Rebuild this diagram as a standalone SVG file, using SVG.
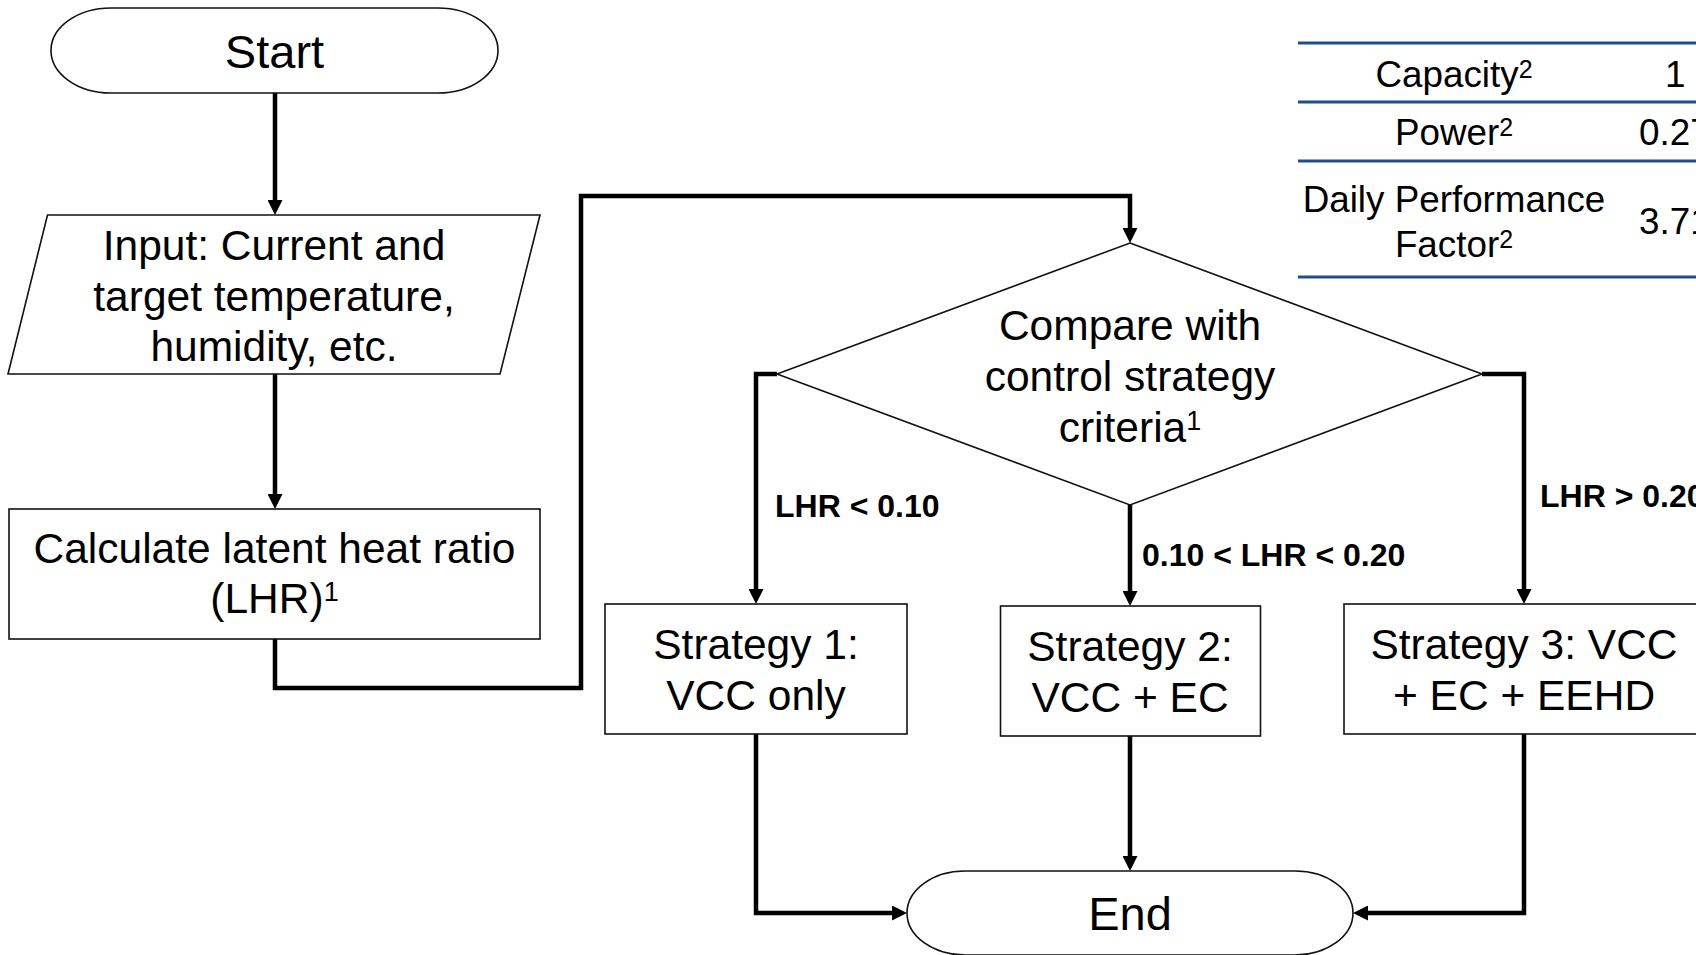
<svg xmlns="http://www.w3.org/2000/svg" width="1696" height="955" viewBox="0 0 1696 955">
<style>
  .shape { fill: #ffffff; stroke: #111111; stroke-width: 1.6; }
  .conn { fill: none; stroke: #000000; stroke-width: 4.5; stroke-linejoin: miter; stroke-linecap: butt; }
  .txt { font-family: "Liberation Sans", Arial, sans-serif; font-size: 42.5px; fill: #000000; text-anchor: middle; }
  .term { font-size: 47px; }
  .lbl { font-family: "Liberation Sans", Arial, sans-serif; font-size: 32px; font-weight: bold; fill: #000000; }
  .tab { font-family: "Liberation Sans", Arial, sans-serif; font-size: 36.8px; fill: #000000; }
  .tline { stroke: #1F4E8A; stroke-width: 2.8; }
  .sup { font-size: 27px; }
  .tsup { font-size: 25px; }
</style>
<defs>
  <marker id="arrow" viewBox="0 0 15 15" markerWidth="15" markerHeight="15" markerUnits="userSpaceOnUse" refX="1" refY="7.5" orient="auto">
    <path d="M0,0 L15,7.5 L0,15 Z" fill="#000000"/>
  </marker>
</defs>

<g id="table">
  <line class="tline" x1="1298" y1="43" x2="1700" y2="43"/>
  <line class="tline" x1="1298" y1="102" x2="1700" y2="102"/>
  <line class="tline" x1="1298" y1="161" x2="1700" y2="161"/>
  <line class="tline" x1="1298" y1="277" x2="1700" y2="277"/>
  <text class="tab" x="1454" y="87" text-anchor="middle">Capacity<tspan class="tsup" dy="-9">2</tspan></text>
  <text class="tab" x="1454" y="145" text-anchor="middle">Power<tspan class="tsup" dy="-9">2</tspan></text>
  <text class="tab" x="1454" y="212" text-anchor="middle">Daily Performance</text>
  <text class="tab" x="1454" y="257" text-anchor="middle">Factor<tspan class="tsup" dy="-9">2</tspan></text>
  <text class="tab" x="1665" y="87">1</text>
  <text class="tab" x="1639" y="145">0.27</text>
  <text class="tab" x="1639" y="234">3.71</text>
</g>

<g id="connectors">
  <path class="conn" d="M275,93 V201" marker-end="url(#arrow)"/>
  <path class="conn" d="M275,374 V495" marker-end="url(#arrow)"/>
  <path class="conn" d="M275,639 V688 H581 V196 H1130 V229" marker-end="url(#arrow)"/>
  <path class="conn" d="M777,374 H756 V590" marker-end="url(#arrow)"/>
  <path class="conn" d="M1130,505 V592" marker-end="url(#arrow)"/>
  <path class="conn" d="M1482,374 H1524 V590" marker-end="url(#arrow)"/>
  <path class="conn" d="M756,734 V913 H893" marker-end="url(#arrow)"/>
  <path class="conn" d="M1130,736 V857" marker-end="url(#arrow)"/>
  <path class="conn" d="M1524,734 V913 H1367" marker-end="url(#arrow)"/>
  <text class="lbl" x="775" y="517">LHR &lt; 0.10</text>
  <text class="lbl" x="1142" y="566">0.10 &lt; LHR &lt; 0.20</text>
  <text class="lbl" x="1540" y="507">LHR &gt; 0.20</text>
</g>

<g id="start">
  <path class="shape" d="M111,8 H438 A60,42.5 0 0 1 438,93 H111 A60,42.5 0 0 1 111,8 Z"/>
  <text class="txt term" x="274.5" y="67.5">Start</text>
</g>

<g id="input">
  <polygon class="shape" points="47.5,215 540,215 500,374 8,374"/>
  <text class="txt" x="274" y="260">Input: Current and</text>
  <text class="txt" x="274" y="310.5">target temperature,</text>
  <text class="txt" x="274" y="361">humidity, etc.</text>
</g>

<g id="calculate">
  <rect class="shape" x="9" y="509" width="531" height="130"/>
  <text class="txt" x="274.5" y="563">Calculate latent heat ratio</text>
  <text class="txt" x="274.5" y="613">(LHR)<tspan class="sup" dy="-12">1</tspan></text>
</g>

<g id="compare">
  <polygon class="shape" points="1130,243 1482,374 1130,505 777,374"/>
  <text class="txt" x="1130" y="340">Compare with</text>
  <text class="txt" x="1130" y="391">control strategy</text>
  <text class="txt" x="1130" y="442">criteria<tspan class="sup" dy="-12">1</tspan></text>
</g>

<g id="strategy1">
  <rect class="shape" x="605" y="604" width="302" height="130"/>
  <text class="txt" x="756" y="659">Strategy 1:</text>
  <text class="txt" x="756" y="710">VCC only</text>
</g>

<g id="strategy2">
  <rect class="shape" x="1000.5" y="606" width="260" height="130"/>
  <text class="txt" x="1130" y="661">Strategy 2:</text>
  <text class="txt" x="1130" y="712">VCC + EC</text>
</g>

<g id="strategy3">
  <rect class="shape" x="1344" y="604" width="360" height="130"/>
  <text class="txt" x="1524" y="659">Strategy 3: VCC</text>
  <text class="txt" x="1524" y="710">+ EC + EEHD</text>
</g>

<g id="end">
  <path class="shape" d="M965,871 H1295 A58,42 0 0 1 1295,955 H965 A58,42 0 0 1 965,871 Z"/>
  <text class="txt term" x="1130" y="930">End</text>
</g>
</svg>
